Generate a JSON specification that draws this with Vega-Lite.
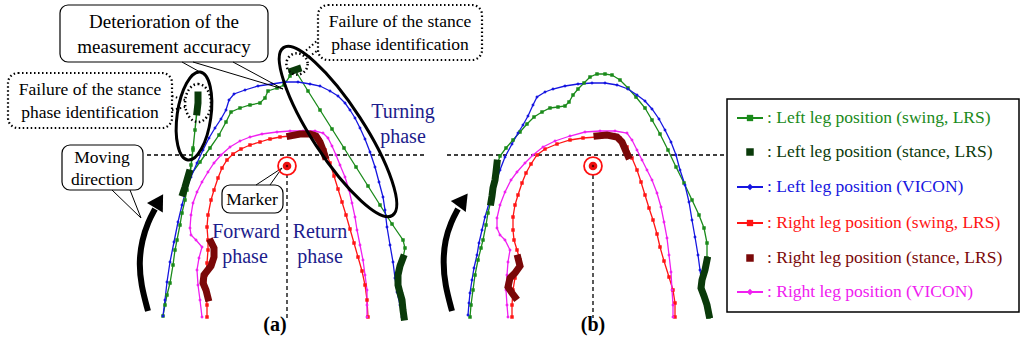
{
"$schema":"https://vega.github.io/schema/vega-lite/v6.json",
"width":1024,"height":343,"autosize":{"type":"fit","contains":"padding"},"padding":0,"background":"white",
"config":{"view":{"stroke":null},"axis":{"disable":true},"text":{"font":"Liberation Serif"}},
"datasets":{
"traj":[
{"g":"a1","s":"Lswing","x":163,"y":316},{"g":"a1","s":"Lswing","x":165,"y":305},{"g":"a1","s":"Lswing","x":167,"y":295},{"g":"a1","s":"Lswing","x":170,"y":283},{"g":"a1","s":"Lswing","x":173,"y":265},{"g":"a1","s":"Lswing","x":175,"y":250},{"g":"a1","s":"Lswing","x":177,"y":240},{"g":"a1","s":"Lswing","x":180,"y":225},{"g":"a1","s":"Lswing","x":182,"y":213},{"g":"a1","s":"Lswing","x":185,"y":200},{"g":"a1","s":"Lswing","x":187,"y":190},{"g":"a1","s":"Lswing","x":189,"y":178},{"g":"a1","s":"Lswing","x":191,"y":165},{"g":"a1","s":"Lswing","x":193,"y":148},{"g":"a1","s":"Lswing","x":195,"y":130},{"g":"a1","s":"Lswing","x":197,"y":112},{"g":"a1","s":"Lswing","x":198,"y":98},{"g":"a1","s":"Lswing","x":193,"y":150},{"g":"a1","s":"Lswing","x":190,"y":176},{"g":"a1","s":"Lswing","x":200,"y":162},{"g":"a1","s":"Lswing","x":210,"y":148},{"g":"a1","s":"Lswing","x":219,"y":135},{"g":"a1","s":"Lswing","x":226,"y":122},{"g":"a1","s":"Lswing","x":231,"y":112},{"g":"a1","s":"Lswing","x":240,"y":108},{"g":"a1","s":"Lswing","x":250,"y":105},{"g":"a1","s":"Lswing","x":260,"y":103},{"g":"a1","s":"Lswing","x":265,"y":98},{"g":"a1","s":"Lswing","x":268,"y":91},{"g":"a1","s":"Lswing","x":277,"y":88},{"g":"a1","s":"Lswing","x":284,"y":85},{"g":"a1","s":"Lswing","x":290,"y":76},{"g":"a1","s":"Lswing","x":295,"y":70},{"g":"a1","s":"Lswing","x":308,"y":91},{"g":"a1","s":"Lswing","x":320,"y":110},{"g":"a1","s":"Lswing","x":332,"y":129},{"g":"a1","s":"Lswing","x":344,"y":148},{"g":"a1","s":"Lswing","x":356,"y":167},{"g":"a1","s":"Lswing","x":368,"y":186},{"g":"a1","s":"Lswing","x":380,"y":205},{"g":"a1","s":"Lswing","x":392,"y":224},{"g":"a1","s":"Lswing","x":403,"y":240},{"g":"a1","s":"Lswing","x":405,"y":248},{"g":"a1","s":"Lswing","x":403,"y":258},{"g":"a1","s":"Lswing","x":399,"y":275},{"g":"a1","s":"Lswing","x":401,"y":295},{"g":"a1","s":"Lswing","x":404,"y":317},
{"g":"a2","s":"Lstance","x":189,"y":173},{"g":"a2","s":"Lstance","x":187,"y":180},{"g":"a2","s":"Lstance","x":185,"y":187},{"g":"a2","s":"Lstance","x":183,"y":193},
{"g":"a3","s":"Lstance","x":198,"y":95},{"g":"a3","s":"Lstance","x":198,"y":103},{"g":"a3","s":"Lstance","x":197,"y":112},
{"g":"a4","s":"Lstance","x":292,"y":71},{"g":"a4","s":"Lstance","x":298,"y":69},
{"g":"a5","s":"Lstance","x":403,"y":258},{"g":"a5","s":"Lstance","x":400,"y":266},{"g":"a5","s":"Lstance","x":398,"y":275},{"g":"a5","s":"Lstance","x":398,"y":285},{"g":"a5","s":"Lstance","x":400,"y":293},{"g":"a5","s":"Lstance","x":402,"y":300},{"g":"a5","s":"Lstance","x":403,"y":310},{"g":"a5","s":"Lstance","x":404,"y":317},
{"g":"a6","s":"Lvicon","x":163,"y":316},{"g":"a6","s":"Lvicon","x":165,"y":300},{"g":"a6","s":"Lvicon","x":167,"y":282},{"g":"a6","s":"Lvicon","x":170,"y":262},{"g":"a6","s":"Lvicon","x":174,"y":242},{"g":"a6","s":"Lvicon","x":178,"y":222},{"g":"a6","s":"Lvicon","x":182,"y":205},{"g":"a6","s":"Lvicon","x":186,"y":190},{"g":"a6","s":"Lvicon","x":191,"y":177},{"g":"a6","s":"Lvicon","x":197,"y":163},{"g":"a6","s":"Lvicon","x":203,"y":150},{"g":"a6","s":"Lvicon","x":209,"y":138},{"g":"a6","s":"Lvicon","x":215,"y":128},{"g":"a6","s":"Lvicon","x":221,"y":119},{"g":"a6","s":"Lvicon","x":226,"y":110},{"g":"a6","s":"Lvicon","x":229,"y":100},{"g":"a6","s":"Lvicon","x":234,"y":94},{"g":"a6","s":"Lvicon","x":245,"y":90},{"g":"a6","s":"Lvicon","x":258,"y":86},{"g":"a6","s":"Lvicon","x":272,"y":84},{"g":"a6","s":"Lvicon","x":285,"y":82},{"g":"a6","s":"Lvicon","x":298,"y":82},{"g":"a6","s":"Lvicon","x":310,"y":84},{"g":"a6","s":"Lvicon","x":320,"y":86},{"g":"a6","s":"Lvicon","x":330,"y":91},{"g":"a6","s":"Lvicon","x":338,"y":96},{"g":"a6","s":"Lvicon","x":345,"y":103},{"g":"a6","s":"Lvicon","x":350,"y":110},{"g":"a6","s":"Lvicon","x":355,"y":118},{"g":"a6","s":"Lvicon","x":360,"y":128},{"g":"a6","s":"Lvicon","x":365,"y":139},{"g":"a6","s":"Lvicon","x":370,"y":152},{"g":"a6","s":"Lvicon","x":375,"y":167},{"g":"a6","s":"Lvicon","x":379,"y":182},{"g":"a6","s":"Lvicon","x":383,"y":197},{"g":"a6","s":"Lvicon","x":385,"y":210},{"g":"a6","s":"Lvicon","x":387,"y":227},{"g":"a6","s":"Lvicon","x":390,"y":245},{"g":"a6","s":"Lvicon","x":393,"y":262},{"g":"a6","s":"Lvicon","x":395,"y":278},{"g":"a6","s":"Lvicon","x":397,"y":292},{"g":"a6","s":"Lvicon","x":400,"y":305},{"g":"a6","s":"Lvicon","x":402,"y":317},
{"g":"a7","s":"Rswing","x":207,"y":317},{"g":"a7","s":"Rswing","x":207,"y":305},{"g":"a7","s":"Rswing","x":206,"y":290},{"g":"a7","s":"Rswing","x":206,"y":275},{"g":"a7","s":"Rswing","x":207,"y":263},{"g":"a7","s":"Rswing","x":208,"y":250},{"g":"a7","s":"Rswing","x":208,"y":240},{"g":"a7","s":"Rswing","x":207,"y":227},{"g":"a7","s":"Rswing","x":208,"y":215},{"g":"a7","s":"Rswing","x":211,"y":200},{"g":"a7","s":"Rswing","x":214,"y":190},{"g":"a7","s":"Rswing","x":218,"y":178},{"g":"a7","s":"Rswing","x":222,"y":168},{"g":"a7","s":"Rswing","x":227,"y":160},{"g":"a7","s":"Rswing","x":233,"y":154},{"g":"a7","s":"Rswing","x":241,"y":149},{"g":"a7","s":"Rswing","x":250,"y":145},{"g":"a7","s":"Rswing","x":260,"y":142},{"g":"a7","s":"Rswing","x":270,"y":139},{"g":"a7","s":"Rswing","x":280,"y":137},{"g":"a7","s":"Rswing","x":290,"y":136},{"g":"a7","s":"Rswing","x":302,"y":135},{"g":"a7","s":"Rswing","x":313,"y":135},{"g":"a7","s":"Rswing","x":320,"y":140},{"g":"a7","s":"Rswing","x":325,"y":150},{"g":"a7","s":"Rswing","x":330,"y":163},{"g":"a7","s":"Rswing","x":334,"y":176},{"g":"a7","s":"Rswing","x":338,"y":189},{"g":"a7","s":"Rswing","x":342,"y":202},{"g":"a7","s":"Rswing","x":346,"y":215},{"g":"a7","s":"Rswing","x":350,"y":229},{"g":"a7","s":"Rswing","x":354,"y":243},{"g":"a7","s":"Rswing","x":358,"y":257},{"g":"a7","s":"Rswing","x":362,"y":271},{"g":"a7","s":"Rswing","x":365,"y":285},{"g":"a7","s":"Rswing","x":367,"y":300},{"g":"a7","s":"Rswing","x":368,"y":317},
{"g":"a8","s":"Rstance","x":211,"y":242},{"g":"a8","s":"Rstance","x":214,"y":248},{"g":"a8","s":"Rstance","x":214,"y":257},{"g":"a8","s":"Rstance","x":211,"y":266},{"g":"a8","s":"Rstance","x":204,"y":275},{"g":"a8","s":"Rstance","x":203,"y":283},{"g":"a8","s":"Rstance","x":206,"y":290},{"g":"a8","s":"Rstance","x":208,"y":298},
{"g":"a9","s":"Rstance","x":290,"y":136},{"g":"a9","s":"Rstance","x":300,"y":134},{"g":"a9","s":"Rstance","x":310,"y":134},{"g":"a9","s":"Rstance","x":316,"y":136},{"g":"a9","s":"Rstance","x":320,"y":142},{"g":"a9","s":"Rstance","x":323,"y":150},{"g":"a9","s":"Rstance","x":325,"y":156},
{"g":"a10","s":"Rvicon","x":202,"y":317},{"g":"a10","s":"Rvicon","x":200,"y":300},{"g":"a10","s":"Rvicon","x":198,"y":285},{"g":"a10","s":"Rvicon","x":197,"y":270},{"g":"a10","s":"Rvicon","x":199,"y":258},{"g":"a10","s":"Rvicon","x":202,"y":247},{"g":"a10","s":"Rvicon","x":196,"y":240},{"g":"a10","s":"Rvicon","x":191,"y":235},{"g":"a10","s":"Rvicon","x":190,"y":228},{"g":"a10","s":"Rvicon","x":191,"y":215},{"g":"a10","s":"Rvicon","x":193,"y":203},{"g":"a10","s":"Rvicon","x":197,"y":192},{"g":"a10","s":"Rvicon","x":202,"y":182},{"g":"a10","s":"Rvicon","x":208,"y":172},{"g":"a10","s":"Rvicon","x":214,"y":163},{"g":"a10","s":"Rvicon","x":221,"y":155},{"g":"a10","s":"Rvicon","x":230,"y":147},{"g":"a10","s":"Rvicon","x":240,"y":141},{"g":"a10","s":"Rvicon","x":250,"y":137},{"g":"a10","s":"Rvicon","x":262,"y":134},{"g":"a10","s":"Rvicon","x":277,"y":132},{"g":"a10","s":"Rvicon","x":290,"y":131},{"g":"a10","s":"Rvicon","x":303,"y":131},{"g":"a10","s":"Rvicon","x":315,"y":131},{"g":"a10","s":"Rvicon","x":323,"y":133},{"g":"a10","s":"Rvicon","x":328,"y":138},{"g":"a10","s":"Rvicon","x":332,"y":146},{"g":"a10","s":"Rvicon","x":336,"y":155},{"g":"a10","s":"Rvicon","x":340,"y":165},{"g":"a10","s":"Rvicon","x":345,"y":177},{"g":"a10","s":"Rvicon","x":349,"y":190},{"g":"a10","s":"Rvicon","x":352,"y":203},{"g":"a10","s":"Rvicon","x":355,"y":217},{"g":"a10","s":"Rvicon","x":357,"y":230},{"g":"a10","s":"Rvicon","x":360,"y":245},{"g":"a10","s":"Rvicon","x":363,"y":260},{"g":"a10","s":"Rvicon","x":365,"y":275},{"g":"a10","s":"Rvicon","x":367,"y":290},{"g":"a10","s":"Rvicon","x":367,"y":305},{"g":"a10","s":"Rvicon","x":367,"y":317},
{"g":"b1","s":"Lswing","x":470,"y":317},{"g":"b1","s":"Lswing","x":471,"y":305},{"g":"b1","s":"Lswing","x":473,"y":290},{"g":"b1","s":"Lswing","x":475,"y":275},{"g":"b1","s":"Lswing","x":478,"y":260},{"g":"b1","s":"Lswing","x":481,"y":248},{"g":"b1","s":"Lswing","x":483,"y":240},{"g":"b1","s":"Lswing","x":486,"y":225},{"g":"b1","s":"Lswing","x":488,"y":213},{"g":"b1","s":"Lswing","x":491,"y":200},{"g":"b1","s":"Lswing","x":493,"y":188},{"g":"b1","s":"Lswing","x":495,"y":175},{"g":"b1","s":"Lswing","x":497,"y":165},{"g":"b1","s":"Lswing","x":500,"y":156},{"g":"b1","s":"Lswing","x":506,"y":148},{"g":"b1","s":"Lswing","x":513,"y":140},{"g":"b1","s":"Lswing","x":520,"y":132},{"g":"b1","s":"Lswing","x":527,"y":124},{"g":"b1","s":"Lswing","x":534,"y":117},{"g":"b1","s":"Lswing","x":542,"y":112},{"g":"b1","s":"Lswing","x":550,"y":108},{"g":"b1","s":"Lswing","x":558,"y":107},{"g":"b1","s":"Lswing","x":565,"y":106},{"g":"b1","s":"Lswing","x":569,"y":102},{"g":"b1","s":"Lswing","x":573,"y":95},{"g":"b1","s":"Lswing","x":578,"y":89},{"g":"b1","s":"Lswing","x":584,"y":83},{"g":"b1","s":"Lswing","x":590,"y":77},{"g":"b1","s":"Lswing","x":597,"y":74},{"g":"b1","s":"Lswing","x":605,"y":74},{"g":"b1","s":"Lswing","x":612,"y":75},{"g":"b1","s":"Lswing","x":620,"y":80},{"g":"b1","s":"Lswing","x":628,"y":88},{"g":"b1","s":"Lswing","x":636,"y":97},{"g":"b1","s":"Lswing","x":645,"y":108},{"g":"b1","s":"Lswing","x":652,"y":120},{"g":"b1","s":"Lswing","x":660,"y":134},{"g":"b1","s":"Lswing","x":668,"y":150},{"g":"b1","s":"Lswing","x":676,"y":167},{"g":"b1","s":"Lswing","x":684,"y":183},{"g":"b1","s":"Lswing","x":692,"y":200},{"g":"b1","s":"Lswing","x":699,"y":215},{"g":"b1","s":"Lswing","x":704,"y":228},{"g":"b1","s":"Lswing","x":707,"y":243},{"g":"b1","s":"Lswing","x":707,"y":258},{"g":"b1","s":"Lswing","x":702,"y":280},{"g":"b1","s":"Lswing","x":706,"y":300},{"g":"b1","s":"Lswing","x":709,"y":317},
{"g":"b2","s":"Lstance","x":497,"y":163},{"g":"b2","s":"Lstance","x":496,"y":172},{"g":"b2","s":"Lstance","x":495,"y":180},{"g":"b2","s":"Lstance","x":493,"y":188},{"g":"b2","s":"Lstance","x":492,"y":196},{"g":"b2","s":"Lstance","x":491,"y":202},
{"g":"b3","s":"Lstance","x":707,"y":260},{"g":"b3","s":"Lstance","x":705,"y":270},{"g":"b3","s":"Lstance","x":702,"y":280},{"g":"b3","s":"Lstance","x":701,"y":288},{"g":"b3","s":"Lstance","x":704,"y":296},{"g":"b3","s":"Lstance","x":707,"y":305},{"g":"b3","s":"Lstance","x":709,"y":315},
{"g":"b4","s":"Lvicon","x":468,"y":315},{"g":"b4","s":"Lvicon","x":469,"y":303},{"g":"b4","s":"Lvicon","x":470,"y":293},{"g":"b4","s":"Lvicon","x":472,"y":280},{"g":"b4","s":"Lvicon","x":474,"y":268},{"g":"b4","s":"Lvicon","x":477,"y":255},{"g":"b4","s":"Lvicon","x":479,"y":243},{"g":"b4","s":"Lvicon","x":482,"y":230},{"g":"b4","s":"Lvicon","x":485,"y":217},{"g":"b4","s":"Lvicon","x":490,"y":200},{"g":"b4","s":"Lvicon","x":495,"y":185},{"g":"b4","s":"Lvicon","x":500,"y":170},{"g":"b4","s":"Lvicon","x":505,"y":157},{"g":"b4","s":"Lvicon","x":512,"y":144},{"g":"b4","s":"Lvicon","x":518,"y":133},{"g":"b4","s":"Lvicon","x":523,"y":125},{"g":"b4","s":"Lvicon","x":528,"y":116},{"g":"b4","s":"Lvicon","x":533,"y":105},{"g":"b4","s":"Lvicon","x":537,"y":97},{"g":"b4","s":"Lvicon","x":545,"y":92},{"g":"b4","s":"Lvicon","x":553,"y":89},{"g":"b4","s":"Lvicon","x":565,"y":86},{"g":"b4","s":"Lvicon","x":578,"y":84},{"g":"b4","s":"Lvicon","x":592,"y":83},{"g":"b4","s":"Lvicon","x":605,"y":83},{"g":"b4","s":"Lvicon","x":617,"y":85},{"g":"b4","s":"Lvicon","x":628,"y":89},{"g":"b4","s":"Lvicon","x":637,"y":95},{"g":"b4","s":"Lvicon","x":645,"y":101},{"g":"b4","s":"Lvicon","x":652,"y":109},{"g":"b4","s":"Lvicon","x":659,"y":119},{"g":"b4","s":"Lvicon","x":665,"y":130},{"g":"b4","s":"Lvicon","x":671,"y":142},{"g":"b4","s":"Lvicon","x":676,"y":155},{"g":"b4","s":"Lvicon","x":680,"y":170},{"g":"b4","s":"Lvicon","x":685,"y":185},{"g":"b4","s":"Lvicon","x":689,"y":202},{"g":"b4","s":"Lvicon","x":692,"y":220},{"g":"b4","s":"Lvicon","x":695,"y":237},{"g":"b4","s":"Lvicon","x":698,"y":255},{"g":"b4","s":"Lvicon","x":700,"y":270},{"g":"b4","s":"Lvicon","x":702,"y":285},{"g":"b4","s":"Lvicon","x":705,"y":300},{"g":"b4","s":"Lvicon","x":707,"y":313},
{"g":"b5","s":"Rswing","x":512,"y":317},{"g":"b5","s":"Rswing","x":512,"y":305},{"g":"b5","s":"Rswing","x":513,"y":290},{"g":"b5","s":"Rswing","x":515,"y":278},{"g":"b5","s":"Rswing","x":518,"y":268},{"g":"b5","s":"Rswing","x":520,"y":260},{"g":"b5","s":"Rswing","x":517,"y":250},{"g":"b5","s":"Rswing","x":514,"y":240},{"g":"b5","s":"Rswing","x":513,"y":230},{"g":"b5","s":"Rswing","x":513,"y":217},{"g":"b5","s":"Rswing","x":515,"y":205},{"g":"b5","s":"Rswing","x":518,"y":195},{"g":"b5","s":"Rswing","x":522,"y":183},{"g":"b5","s":"Rswing","x":526,"y":173},{"g":"b5","s":"Rswing","x":531,"y":164},{"g":"b5","s":"Rswing","x":537,"y":155},{"g":"b5","s":"Rswing","x":545,"y":149},{"g":"b5","s":"Rswing","x":557,"y":144},{"g":"b5","s":"Rswing","x":570,"y":140},{"g":"b5","s":"Rswing","x":583,"y":138},{"g":"b5","s":"Rswing","x":597,"y":137},{"g":"b5","s":"Rswing","x":610,"y":136},{"g":"b5","s":"Rswing","x":620,"y":138},{"g":"b5","s":"Rswing","x":627,"y":147},{"g":"b5","s":"Rswing","x":632,"y":158},{"g":"b5","s":"Rswing","x":637,"y":170},{"g":"b5","s":"Rswing","x":641,"y":182},{"g":"b5","s":"Rswing","x":645,"y":195},{"g":"b5","s":"Rswing","x":649,"y":208},{"g":"b5","s":"Rswing","x":653,"y":220},{"g":"b5","s":"Rswing","x":657,"y":234},{"g":"b5","s":"Rswing","x":660,"y":247},{"g":"b5","s":"Rswing","x":664,"y":261},{"g":"b5","s":"Rswing","x":669,"y":277},{"g":"b5","s":"Rswing","x":673,"y":290},{"g":"b5","s":"Rswing","x":675,"y":303},{"g":"b5","s":"Rswing","x":675,"y":317},
{"g":"b6","s":"Rstance","x":518,"y":258},{"g":"b6","s":"Rstance","x":520,"y":266},{"g":"b6","s":"Rstance","x":515,"y":273},{"g":"b6","s":"Rstance","x":510,"y":278},{"g":"b6","s":"Rstance","x":508,"y":287},{"g":"b6","s":"Rstance","x":512,"y":293},{"g":"b6","s":"Rstance","x":515,"y":297},
{"g":"b7","s":"Rstance","x":597,"y":136},{"g":"b7","s":"Rstance","x":607,"y":135},{"g":"b7","s":"Rstance","x":617,"y":137},{"g":"b7","s":"Rstance","x":622,"y":142},{"g":"b7","s":"Rstance","x":625,"y":149},{"g":"b7","s":"Rstance","x":628,"y":156},
{"g":"b8","s":"Rvicon","x":508,"y":317},{"g":"b8","s":"Rvicon","x":507,"y":305},{"g":"b8","s":"Rvicon","x":506,"y":290},{"g":"b8","s":"Rvicon","x":507,"y":275},{"g":"b8","s":"Rvicon","x":508,"y":262},{"g":"b8","s":"Rvicon","x":510,"y":250},{"g":"b8","s":"Rvicon","x":505,"y":240},{"g":"b8","s":"Rvicon","x":500,"y":235},{"g":"b8","s":"Rvicon","x":497,"y":228},{"g":"b8","s":"Rvicon","x":497,"y":218},{"g":"b8","s":"Rvicon","x":500,"y":205},{"g":"b8","s":"Rvicon","x":505,"y":192},{"g":"b8","s":"Rvicon","x":511,"y":180},{"g":"b8","s":"Rvicon","x":517,"y":172},{"g":"b8","s":"Rvicon","x":525,"y":163},{"g":"b8","s":"Rvicon","x":533,"y":155},{"g":"b8","s":"Rvicon","x":543,"y":147},{"g":"b8","s":"Rvicon","x":555,"y":141},{"g":"b8","s":"Rvicon","x":570,"y":136},{"g":"b8","s":"Rvicon","x":585,"y":132},{"g":"b8","s":"Rvicon","x":600,"y":131},{"g":"b8","s":"Rvicon","x":615,"y":131},{"g":"b8","s":"Rvicon","x":627,"y":133},{"g":"b8","s":"Rvicon","x":632,"y":140},{"g":"b8","s":"Rvicon","x":637,"y":150},{"g":"b8","s":"Rvicon","x":642,"y":160},{"g":"b8","s":"Rvicon","x":647,"y":170},{"g":"b8","s":"Rvicon","x":652,"y":180},{"g":"b8","s":"Rvicon","x":657,"y":193},{"g":"b8","s":"Rvicon","x":661,"y":207},{"g":"b8","s":"Rvicon","x":664,"y":222},{"g":"b8","s":"Rvicon","x":667,"y":238},{"g":"b8","s":"Rvicon","x":669,"y":255},{"g":"b8","s":"Rvicon","x":671,"y":272},{"g":"b8","s":"Rvicon","x":672,"y":290},{"g":"b8","s":"Rvicon","x":673,"y":305},{"g":"b8","s":"Rvicon","x":673,"y":317}
],
"dash":[{"x":147,"x2":424,"y":155,"y2":155},{"x":447,"x2":727,"y":155,"y2":155},{"x":287,"x2":287,"y":174,"y2":318},{"x":593,"x2":593,"y":175,"y2":318}],
"boxes":[{"x":60,"x2":268,"y":5,"y2":62},{"x":62,"x2":143,"y":145,"y2":190},{"x":222,"x2":283,"y":185,"y2":213}],
"dboxes":[{"x":318,"x2":482,"y":5,"y2":60},{"x":8,"x2":172,"y":73,"y2":128}],
"tails":[{"x":182,"x2":200,"y":62,"y2":72},{"x":193,"x2":283,"y":62,"y2":89},{"x":233,"x2":283,"y":62,"y2":89},{"x":112,"x2":141,"y":190,"y2":218},{"x":130,"x2":141,"y":190,"y2":218},{"x":256,"x2":282,"y":185,"y2":168},{"x":270,"x2":282,"y":185,"y2":168}],
"dtails":[{"x":303,"x2":318,"y":53,"y2":40},{"x":309,"x2":318,"y":57,"y2":50},{"x":172,"x2":185,"y":96,"y2":100},{"x":172,"x2":185,"y":110,"y2":107}],
"arrows":[{"g":"a","x":148,"y":311},{"g":"a","x":141,"y":285},{"g":"a","x":139,"y":262},{"g":"a","x":142,"y":240},{"g":"a","x":148,"y":222},{"g":"a","x":155,"y":209},{"g":"b","x":452,"y":311},{"g":"b","x":445,"y":285},{"g":"b","x":443,"y":262},{"g":"b","x":445,"y":240},{"g":"b","x":451,"y":222},{"g":"b","x":458,"y":209}],
"heads":[{"x":159,"y":201,"a":31},{"x":463,"y":200,"a":36}],
"markers":[{"x":287,"y":166},{"x":593,"y":166}],
"txt19":[{"x":164,"y":22,"t":"Deterioration of the"},{"x":164,"y":47,"t":"measurement accuracy"}],
"txt17":[{"x":400,"y":22,"t":"Failure of the stance"},{"x":400,"y":45,"t":"phase identification"},{"x":90,"y":90,"t":"Failure of the stance"},{"x":90,"y":113,"t":"phase identification"},{"x":102,"y":158,"t":"Moving"},{"x":102,"y":180,"t":"direction"},{"x":252,"y":200,"t":"Marker"}],
"phase":[{"x":403,"y":112,"t":"Turning"},{"x":403,"y":137,"t":"phase"},{"x":246,"y":232,"t":"Forward"},{"x":245,"y":257,"t":"phase"},{"x":320,"y":232,"t":"Return"},{"x":320,"y":257,"t":"phase"}],
"panel":[{"x":275,"y":325,"t":"(a)"},{"x":593,"y":325,"t":"(b)"}],
"leg":[{"s":"Lswing","x":767,"x0":737,"x2":763,"xm":750,"y":118,"t":": Left leg position (swing, LRS)"},{"s":"Lstance","x":767,"x0":750,"x2":750,"xm":750,"y":152,"t":": Left leg position (stance, LRS)"},{"s":"Lvicon","x":767,"x0":737,"x2":763,"xm":750,"y":187,"t":": Left leg position (VICON)"},{"s":"Rswing","x":767,"x0":737,"x2":763,"xm":750,"y":223,"t":": Right leg position (swing, LRS)"},{"s":"Rstance","x":767,"x0":750,"x2":750,"xm":750,"y":258,"t":": Right leg position (stance, LRS)"},{"s":"Rvicon","x":767,"x0":737,"x2":763,"xm":750,"y":292,"t":": Right leg position (VICON)"}],
"legbox":[{"x":727,"x2":1019,"y":99,"y2":312}]
},
"encoding":{
"x":{"field":"x","type":"quantitative","scale":{"domain":[0,1024],"nice":false,"zero":false}},
"y":{"field":"y","type":"quantitative","scale":{"domain":[0,343],"nice":false,"zero":false,"reverse":true}}
},
"layer":[
{"data":{"name":"dash"},"mark":{"type":"rule","stroke":"black","strokeWidth":1.3,"strokeDash":[4,3]},"encoding":{"x2":{"field":"x2"},"y2":{"field":"y2"}}},
{"data":{"name":"traj"},"transform":[{"filter":"datum.s!='Lstance' && datum.s!='Rstance'"}],"mark":{"type":"line","strokeWidth":1.3},"encoding":{"color":{"field":"s","type":"nominal","scale":{"domain":["Lswing","Lstance","Lvicon","Rswing","Rstance","Rvicon"],"range":["#1a8a1a","#0a3a0a","#1616e0","#ff1414","#7a0808","#f020f0"]},"legend":null},"detail":{"field":"g"},"order":{"value":null}}},
{"data":{"name":"traj"},"transform":[{"filter":"datum.s!='Lstance' && datum.s!='Rstance'"}],"mark":{"type":"point","filled":true,"size":12,"opacity":1},"encoding":{"color":{"field":"s","type":"nominal","scale":{"domain":["Lswing","Lstance","Lvicon","Rswing","Rstance","Rvicon"],"range":["#1a8a1a","#0a3a0a","#1616e0","#ff1414","#7a0808","#f020f0"]},"legend":null},"shape":{"field":"s","type":"nominal","scale":{"domain":["Lswing","Lstance","Lvicon","Rswing","Rstance","Rvicon"],"range":["square","square","diamond","square","square","diamond"]},"legend":null}}},
{"data":{"name":"traj"},"transform":[{"filter":"datum.s=='Lstance' || datum.s=='Rstance'"}],"mark":{"type":"line","strokeWidth":7,"strokeCap":"square","strokeJoin":"miter"},"encoding":{"color":{"field":"s","type":"nominal","scale":{"domain":["Lswing","Lstance","Lvicon","Rswing","Rstance","Rvicon"],"range":["#1a8a1a","#0a3a0a","#1616e0","#ff1414","#7a0808","#f020f0"]},"legend":null},"detail":{"field":"g"},"order":{"value":null}}},
{"data":{"values":[{"x":338,"y":131.5}]},"mark":{"type":"point","shape":"M0,-1C0.1436,-1,0.26,-0.5523,0.26,0C0.26,0.5523,0.1436,1,0,1C-0.1436,1,-0.26,0.5523,-0.26,0C-0.26,-0.5523,-0.1436,-1,0,-1Z","size":40000,"angle":327,"filled":false,"stroke":"black","strokeWidth":3,"opacity":1}},
{"data":{"values":[{"x":194,"y":116}]},"mark":{"type":"point","shape":"M0,-1C0.21,-1,0.38,-0.5523,0.38,0C0.38,0.5523,0.21,1,0,1C-0.21,1,-0.38,0.5523,-0.38,0C-0.38,-0.5523,-0.21,-1,0,-1Z","size":7900,"angle":8,"filled":false,"stroke":"black","strokeWidth":3,"opacity":1}},
{"data":{"values":[{"x":198,"y":103}]},"mark":{"type":"point","shape":"M0,-1C0.3756,-1,0.68,-0.5523,0.68,0C0.68,0.5523,0.3756,1,0,1C-0.3756,1,-0.68,0.5523,-0.68,0C-0.68,-0.5523,-0.3756,-1,0,-1Z","size":1444,"filled":false,"stroke":"black","strokeWidth":2.5,"strokeDash":[1.5,2.5],"opacity":1}},
{"data":{"values":[{"x":297,"y":64}]},"mark":{"type":"point","shape":"circle","size":452,"filled":false,"stroke":"black","strokeWidth":2.5,"strokeDash":[1.5,2.5],"opacity":1}},
{"data":{"name":"boxes"},"mark":{"type":"rect","fill":"white","stroke":"black","strokeWidth":1.2,"cornerRadius":8},"encoding":{"x2":{"field":"x2"},"y2":{"field":"y2"}}},
{"data":{"name":"dboxes"},"mark":{"type":"rect","fill":"white","stroke":"black","strokeWidth":2.2,"strokeDash":[1.5,2.5],"cornerRadius":10},"encoding":{"x2":{"field":"x2"},"y2":{"field":"y2"}}},
{"data":{"name":"tails"},"mark":{"type":"rule","stroke":"black","strokeWidth":1},"encoding":{"x2":{"field":"x2"},"y2":{"field":"y2"}}},
{"data":{"name":"dtails"},"mark":{"type":"rule","stroke":"black","strokeWidth":2,"strokeDash":[1.5,2.5]},"encoding":{"x2":{"field":"x2"},"y2":{"field":"y2"}}},
{"data":{"name":"arrows"},"mark":{"type":"line","stroke":"black","strokeWidth":6,"interpolate":"basis"},"encoding":{"detail":{"field":"g"},"order":{"value":null}}},
{"data":{"name":"heads"},"mark":{"type":"point","shape":"triangle-up","size":340,"filled":true,"color":"black","opacity":1},"encoding":{"angle":{"field":"a","type":"quantitative","scale":null}}},
{"data":{"name":"markers"},"mark":{"type":"point","shape":"circle","size":320,"filled":false,"stroke":"#ff1010","strokeWidth":1.8,"opacity":1}},
{"data":{"name":"markers"},"mark":{"type":"point","shape":"circle","size":75,"filled":true,"color":"#ee1010","opacity":1}},
{"data":{"name":"markers"},"mark":{"type":"point","shape":"circle","size":6,"filled":true,"color":"#600000","opacity":1}},
{"data":{"name":"txt19"},"mark":{"type":"text","font":"Liberation Serif","fontSize":19,"color":"black","align":"center","baseline":"middle"},"encoding":{"text":{"field":"t"}}},
{"data":{"name":"txt17"},"mark":{"type":"text","font":"Liberation Serif","fontSize":17.5,"color":"black","align":"center","baseline":"middle"},"encoding":{"text":{"field":"t"}}},
{"data":{"name":"phase"},"mark":{"type":"text","font":"Liberation Serif","fontSize":20,"color":"#1c1c8c","align":"center","baseline":"middle"},"encoding":{"text":{"field":"t"}}},
{"data":{"name":"panel"},"mark":{"type":"text","font":"Liberation Serif","fontSize":20,"fontWeight":"bold","color":"black","align":"center","baseline":"middle"},"encoding":{"text":{"field":"t"}}},
{"data":{"name":"legbox"},"mark":{"type":"rect","fill":null,"stroke":"black","strokeWidth":1.5},"encoding":{"x2":{"field":"x2"},"y2":{"field":"y2"}}},
{"data":{"name":"leg"},"transform":[{"filter":"datum.s!='Lstance' && datum.s!='Rstance'"}],"mark":{"type":"rule","strokeWidth":2},"encoding":{"x":{"field":"x0"},"x2":{"field":"x2"},"color":{"field":"s","type":"nominal","scale":{"domain":["Lswing","Lstance","Lvicon","Rswing","Rstance","Rvicon"],"range":["#1a8a1a","#0a3a0a","#1616e0","#ff1414","#7a0808","#f020f0"]},"legend":null}}},
{"data":{"name":"leg"},"transform":[{"filter":"datum.s!='Lstance' && datum.s!='Rstance'"}],"mark":{"type":"point","filled":true,"size":40,"opacity":1},"encoding":{"x":{"field":"xm"},"color":{"field":"s","type":"nominal","scale":{"domain":["Lswing","Lstance","Lvicon","Rswing","Rstance","Rvicon"],"range":["#1a8a1a","#0a3a0a","#1616e0","#ff1414","#7a0808","#f020f0"]},"legend":null},"shape":{"field":"s","type":"nominal","scale":{"domain":["Lswing","Lstance","Lvicon","Rswing","Rstance","Rvicon"],"range":["square","square","diamond","square","square","diamond"]},"legend":null}}},
{"data":{"name":"leg"},"transform":[{"filter":"datum.s=='Lstance' || datum.s=='Rstance'"}],"mark":{"type":"point","filled":true,"size":56,"shape":"square","opacity":1},"encoding":{"x":{"field":"xm"},"color":{"field":"s","type":"nominal","scale":{"domain":["Lswing","Lstance","Lvicon","Rswing","Rstance","Rvicon"],"range":["#1a8a1a","#0a3a0a","#1616e0","#ff1414","#7a0808","#f020f0"]},"legend":null}}},
{"data":{"name":"leg"},"mark":{"type":"text","font":"Liberation Serif","fontSize":17.5,"align":"left","baseline":"middle"},"encoding":{"text":{"field":"t"},"color":{"field":"s","type":"nominal","scale":{"domain":["Lswing","Lstance","Lvicon","Rswing","Rstance","Rvicon"],"range":["#1a8a1a","#0a3a0a","#1616e0","#ff1414","#7a0808","#f020f0"]},"legend":null}}}
]
}
